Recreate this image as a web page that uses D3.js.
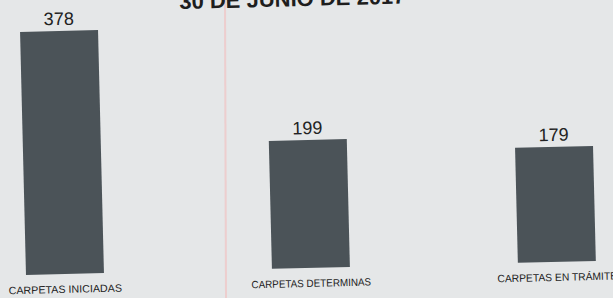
<!DOCTYPE html>
<html lang="es">
<head>
<meta charset="UTF-8" />
<title>Carpetas</title>
<style>
  html, body { margin: 0; padding: 0; background: #e5e7e8; }
  svg { display: block; }
  text { font-family: "Liberation Sans", Arial, sans-serif; }
</style>
<script src="https://d3js.org/d3.v7.min.js"></script>
</head>
<body>
<div id="chart"></div>
<script>
const title = "30 DE JUNIO DE 2017";
const categories = ["CARPETAS INICIADAS", "CARPETAS DETERMINAS", "CARPETAS EN TRÁMITE"];
const values = [378, 199, 179];

const width = 613, height = 298;

const svg = d3.select("#chart").append("svg")
  .attr("width", width)
  .attr("height", height);

// paper background
svg.append("rect")
  .attr("width", width).attr("height", height)
  .attr("fill", "#e5e7e8");

// faint fold line from the scan
svg.append("line")
  .attr("x1", 225).attr("x2", 226)
  .attr("y1", 0).attr("y2", height)
  .attr("stroke", "#f0c8c8")
  .attr("stroke-width", 2)
  .attr("opacity", 0.8);

// the scan is slightly tilted
const g = svg.append("g")
  .attr("transform", "rotate(-1.4, 306, 149)");

const x = d3.scaleBand()
  .domain(categories)
  .range([23, 593])
  .paddingInner(0.683)
  .paddingOuter(0);

const y = d3.scaleLinear()
  .domain([0, 378])
  .range([268, 25]);

g.append("text")
  .attr("x", 296)
  .attr("y", 6)
  .attr("text-anchor", "middle")
  .attr("font-size", 22)
  .attr("font-weight", "bold")
  .attr("fill", "#1e1e1e")
  .text(title);

g.selectAll("rect.bar")
  .data(values)
  .join("rect")
  .attr("class", "bar")
  .attr("x", (d, i) => x(categories[i]))
  .attr("width", x.bandwidth())
  .attr("y", d => y(d))
  .attr("height", d => y(0) - y(d))
  .attr("fill", "#4b5358");

g.selectAll("text.value")
  .data(values)
  .join("text")
  .attr("class", "value")
  .attr("x", (d, i) => x(categories[i]) + x.bandwidth() / 2)
  .attr("y", d => y(d) - 6)
  .attr("text-anchor", "middle")
  .attr("font-size", 18)
  .attr("fill", "#222")
  .text(d => d);

g.selectAll("text.cat")
  .data(categories)
  .join("text")
  .attr("class", "cat")
  .attr("x", d => x(d) + x.bandwidth() / 2)
  .attr("y", 287)
  .attr("text-anchor", "middle")
  .attr("font-size", 10.5)
  .attr("textLength", d => d.length * 6.3)
  .attr("lengthAdjust", "spacingAndGlyphs")
  .attr("fill", "#222")
  .text(d => d);
</script>
</body>
</html>
